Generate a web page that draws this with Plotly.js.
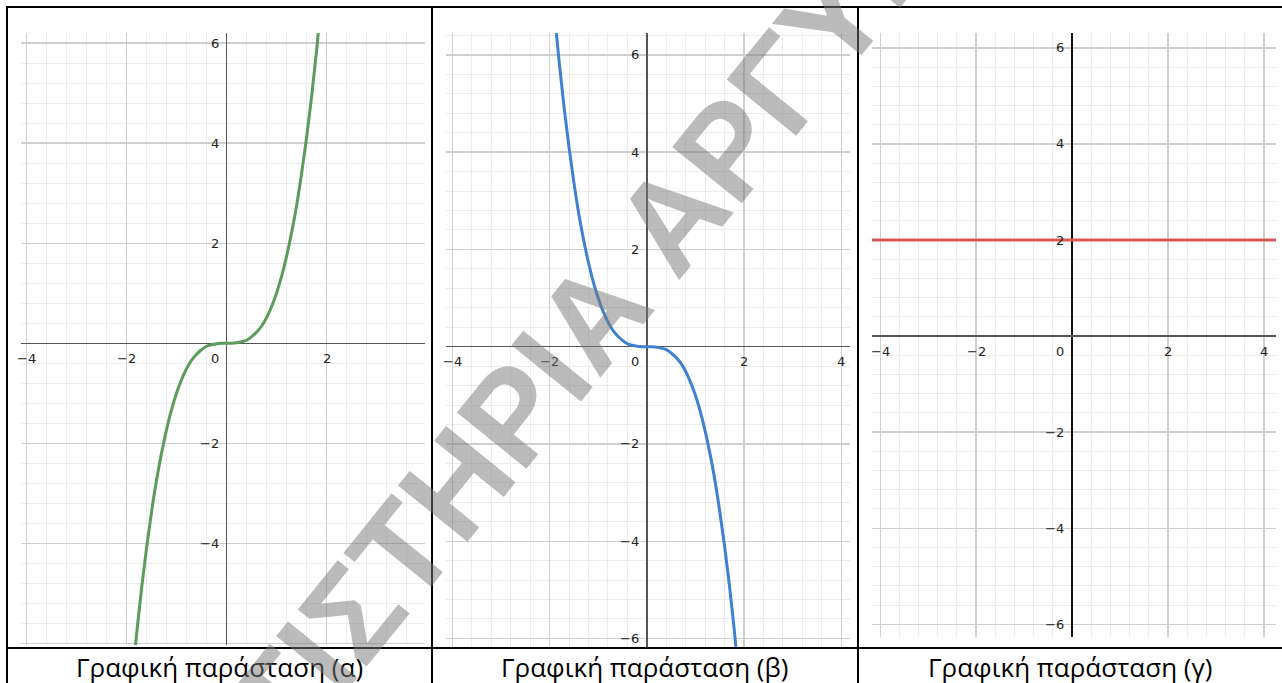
<!DOCTYPE html>
<html><head><meta charset="utf-8">
<script src="https://cdn.plot.ly/plotly-3.0.1.min.js"></script>
<style>html,body{margin:0;padding:0;background:#fff;overflow:hidden}#chart{width:1282px;height:683px}</style>
</head><body><div id="chart"></div>
<script>
// ---- data ----
const xCurve = [-1.9,-1.8,-1.7,-1.6,-1.5,-1.4,-1.3,-1.2,-1.1,-1.0,-0.9,-0.8,-0.7,-0.6,-0.5,-0.4,-0.3,-0.2,-0.1,0,0.1,0.2,0.3,0.4,0.5,0.6,0.7,0.8,0.9,1.0,1.1,1.2,1.3,1.4,1.5,1.6,1.7,1.8,1.9];
const yCurveA = [-6.86,-5.83,-4.91,-4.10,-3.38,-2.74,-2.20,-1.73,-1.33,-1.00,-0.73,-0.51,-0.34,-0.22,-0.13,-0.06,-0.03,-0.01,0,0,0,0.01,0.03,0.06,0.13,0.22,0.34,0.51,0.73,1.00,1.33,1.73,2.20,2.74,3.38,4.10,4.91,5.83,6.86];
const yCurveB = [6.86,5.83,4.91,4.10,3.38,2.74,2.20,1.73,1.33,1.00,0.73,0.51,0.34,0.22,0.13,0.06,0.03,0.01,0,0,0,-0.01,-0.03,-0.06,-0.13,-0.22,-0.34,-0.51,-0.73,-1.00,-1.33,-1.73,-2.20,-2.74,-3.38,-4.10,-4.91,-5.83,-6.86];
const xLineC = [-4.5, 4.5];
const yLineC = [2, 2];

const xTicksA = [-4, -2, 0, 2];
const yTicksA = [6, 4, 2, -2, -4];
const xTicksB = [-4, -2, 0, 2, 4];
const yTicksB = [6, 4, 2, -2, -4, -6];
const xTicksC = [-4, -2, 0, 2, 4];
const yTicksC = [6, 4, 2, -2, -4, -6];

const captions = ["Γραφική παράσταση (α)", "Γραφική παράσταση (β)", "Γραφική παράσταση (γ)"];
const watermark = "ΦΡΟΝΤΙΣΤΗΡΙΑ ΑΡΓΥΡ";

// ---- layout helpers ----
const W = 1282, H = 683;
const px = x => x / W;
const py = y => 1 - y / H;
const fmt = v => (v < 0 ? "\u2212" + Math.abs(v) : String(v));

const panels = [
  {box:[21,33,425,645], xr:[-4.11,3.97], yr:[-6.03,6.2], xs:xCurve, ys:yCurveA, color:'#5b9b5b', xt:xTicksA, yt:yTicksA, xAx:'#555555', yAx:'#555555', cap:captions[0], cell:[7,432]},
  {box:[446,33,850,646.7], xr:[-4.13,4.18], yr:[-6.17,6.45], xs:xCurve, ys:yCurveB, color:'#3f80d2', xt:xTicksB, yt:yTicksB, xAx:'#555555', yAx:'#555555', cap:captions[1], cell:[432,858]},
  {box:[872,33,1276,636.7], xr:[-4.17,4.25], yr:[-6.26,6.31], xs:xLineC, ys:yLineC, color:'#d85656', xt:xTicksC, yt:yTicksC, xAx:'#555555', yAx:'#111111', cap:captions[2], cell:[858,1282]}
];

const layout = {
  width: W, height: H,
  margin: {l:0, r:0, t:0, b:0, pad:0},
  paper_bgcolor: '#ffffff', plot_bgcolor: '#ffffff',
  showlegend: false,
  annotations: [], shapes: []
};
const traces = [];
const tickFont = {family: 'DejaVu Sans', size: 13, color: '#222222'};

panels.forEach((p, i) => {
  const n = i === 0 ? '' : String(i + 1);
  const xa = 'xaxis' + n, ya = 'yaxis' + n, xr = 'x' + n, yr = 'y' + n;
  const common = {
    showgrid: true, gridcolor: '#cfcfcf', gridwidth: 1.3,
    tickmode: 'linear', tick0: 0, dtick: 2,
    minor: {tickmode: 'linear', tick0: 0, dtick: 0.4, showgrid: true, gridcolor: '#ececec', gridwidth: 1},
    zeroline: true, zerolinewidth: 1.5,
    showticklabels: false, ticks: '', showline: false, fixedrange: true
  };
  layout[xa] = Object.assign({}, common, {domain:[px(p.box[0]), px(p.box[2])], range:p.xr, anchor:yr, zerolinecolor:p.yAx});
  layout[ya] = Object.assign({}, common, {domain:[py(p.box[3]), py(p.box[1])], range:p.yr, anchor:xr, zerolinecolor:p.xAx});
  traces.push({type:'scatter', mode:'lines', x:p.xs, y:p.ys, xaxis:xr, yaxis:yr,
    line:{color:p.color, width:3, shape:'spline', smoothing:1}, hoverinfo:'skip'});
  // tick labels
  p.xt.forEach(v => {
    layout.annotations.push(v === 0 ?
      {xref:xr, yref:yr, x:0, y:0, text:'0', showarrow:false, xanchor:'right', yanchor:'middle', xshift:-6, yshift:-15, font:tickFont} :
      {xref:xr, yref:yr, x:v, y:0, text:fmt(v), showarrow:false, xanchor:'center', yanchor:'middle', yshift:-15, font:tickFont});
  });
  p.yt.forEach(v => {
    layout.annotations.push({xref:xr, yref:yr, x:0, y:v, text:fmt(v), showarrow:false, xanchor:'right', yanchor:'middle', xshift:-6, font:tickFont});
  });
  // caption
  layout.annotations.push({xref:'paper', yref:'paper', x:px((p.cell[0]+p.cell[1])/2), y:py(667), text:p.cap, showarrow:false,
    xanchor:'center', yanchor:'middle', font:{family:'Open Sans', size:26, color:'#000000'}});
});

// table borders
const border = (x0,y0,x1,y1) => ({type:'line', xref:'paper', yref:'paper', x0:px(x0), y0:py(y0), x1:px(x1), y1:py(y1), line:{color:'#000000', width:2}, layer:'above'});
layout.shapes.push(border(7,7,1282,7));
layout.shapes.push(border(7,648,1282,648));
layout.shapes.push(border(7,6,7,683));
layout.shapes.push(border(432,6,432,683));
layout.shapes.push(border(858,6,858,683));

// watermark
layout.annotations.push({xref:'paper', yref:'paper', x:px(462), y:py(477), text:watermark, showarrow:false,
  xanchor:'center', yanchor:'middle', textangle:-51,
  font:{family:'Liberation Sans', size:130, weight:'bold', color:'rgba(120,120,120,0.5)'}});

Plotly.newPlot('chart', traces, layout, {staticPlot:true, displayModeBar:false});
</script>
</body></html>
